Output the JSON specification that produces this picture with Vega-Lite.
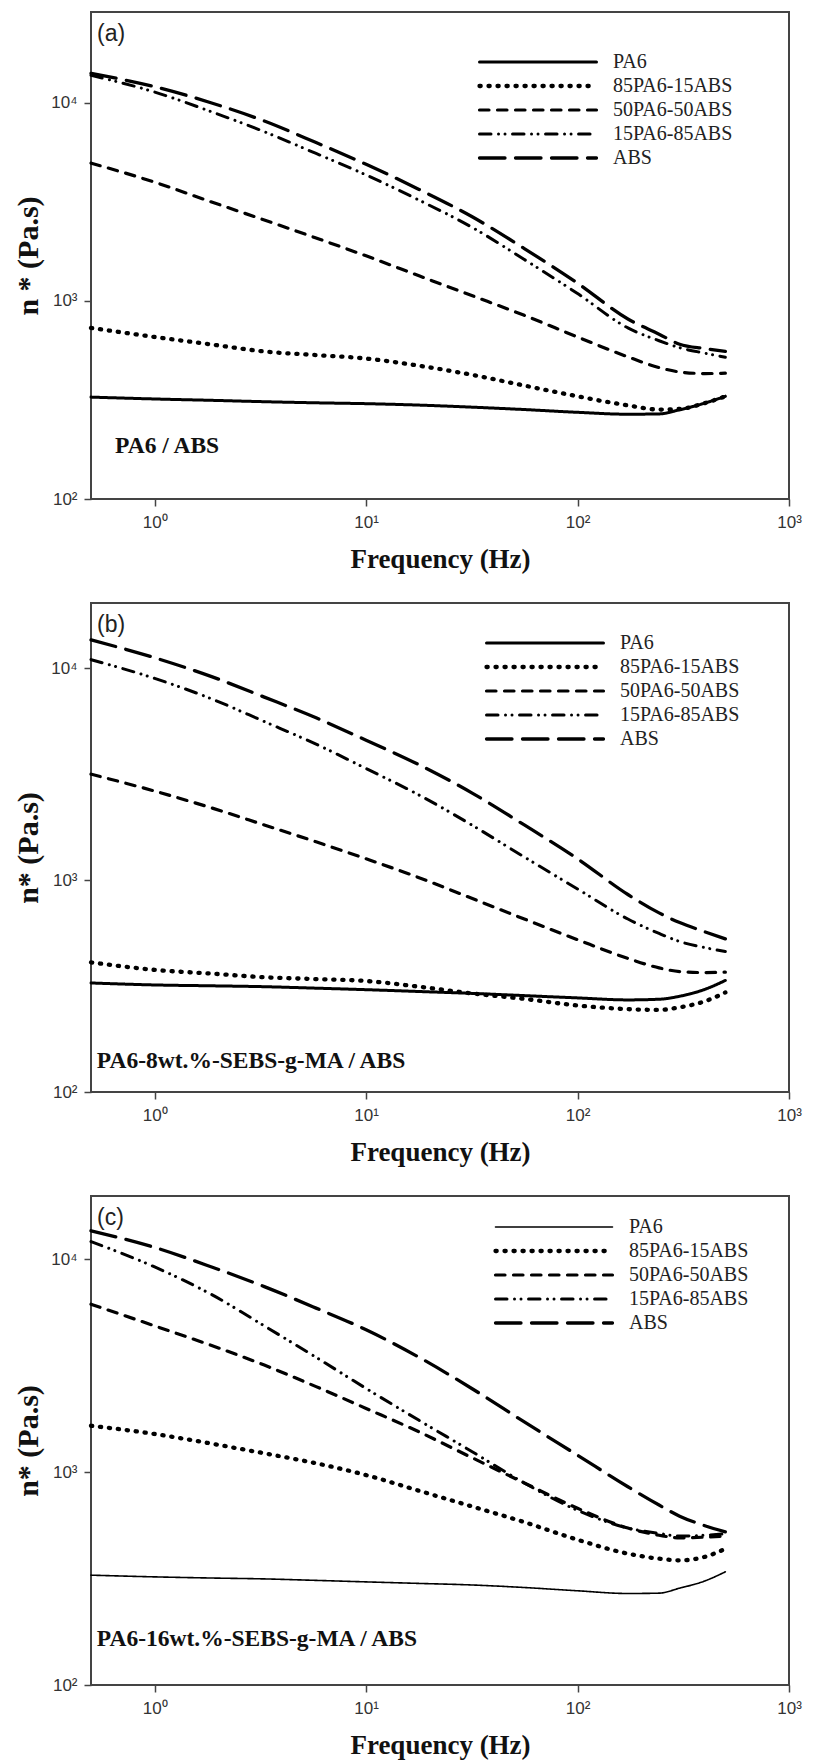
{
  "$schema": "https://vega.github.io/schema/vega-lite/v6.json",
  "background": "white",
  "padding": {"left": 12, "top": 11, "right": 10, "bottom": 4},
  "spacing": 104,
  "bounds": "flush",
  "config": {
    "view": {"stroke": "#444", "strokeWidth": 2},
    "axis": {
      "grid": false, "domain": false, "ticks": true,
      "tickColor": "#444", "tickWidth": 1.5, "tickSize": 7,
      "labelFont": "Liberation Sans", "labelFontSize": 17, "labelColor": "#333",
      "labelOverlap": false, "labelBound": false, "labelFlush": false,
      "titleFont": "Liberation Serif", "titleFontWeight": "bold", "titleColor": "#111"
    },
    "axisX": {"labelPadding": 8, "titlePadding": 16, "titleFontSize": 27},
    "axisY": {"labelPadding": 7, "titlePadding": 7, "titleFontSize": 30},
    "legend": {
      "orient": "none", "title": null, "padding": 0,
      "symbolType": "stroke", "symbolSize": 13689, "symbolStrokeColor": "#000", "symbolOffset": 0,
      "labelFont": "Liberation Serif", "labelFontSize": 20, "labelColor": "#222",
      "labelOffset": 14, "rowPadding": 4, "labelLimit": 300, "clipHeight": 18
    },
    "title": {
      "orient": "top", "anchor": "start", "frame": "group", "offset": -34, "dx": 6,
      "font": "Liberation Sans", "fontSize": 23, "fontWeight": "normal", "color": "#222", "baseline": "alphabetic"
    },
    "line": {"strokeCap": "round", "interpolate": "monotone", "color": "#000"},
    "text": {"font": "Liberation Serif", "fontWeight": "bold", "fontSize": 23.5, "align": "left", "baseline": "alphabetic", "color": "#111"}
  },
  "datasets": {
    "curves": [
      {"panel":"a","series":"PA6","freq":0.5,"eta":327},{"panel":"a","series":"PA6","freq":1,"eta":320},{"panel":"a","series":"PA6","freq":1.86,"eta":315},{"panel":"a","series":"PA6","freq":3.3,"eta":310},{"panel":"a","series":"PA6","freq":5.8,"eta":306},{"panel":"a","series":"PA6","freq":10,"eta":303},{"panel":"a","series":"PA6","freq":17.8,"eta":298},{"panel":"a","series":"PA6","freq":31.6,"eta":291},{"panel":"a","series":"PA6","freq":56,"eta":283},{"panel":"a","series":"PA6","freq":100,"eta":274},{"panel":"a","series":"PA6","freq":173,"eta":268},{"panel":"a","series":"PA6","freq":243,"eta":269},{"panel":"a","series":"PA6","freq":304,"eta":282},{"panel":"a","series":"PA6","freq":400,"eta":305},{"panel":"a","series":"PA6","freq":500,"eta":330},
      {"panel":"a","series":"85PA6-15ABS","freq":0.5,"eta":731},{"panel":"a","series":"85PA6-15ABS","freq":1,"eta":658},{"panel":"a","series":"85PA6-15ABS","freq":1.86,"eta":603},{"panel":"a","series":"85PA6-15ABS","freq":3.3,"eta":556},{"panel":"a","series":"85PA6-15ABS","freq":5.8,"eta":533},{"panel":"a","series":"85PA6-15ABS","freq":10,"eta":512},{"panel":"a","series":"85PA6-15ABS","freq":17.8,"eta":471},{"panel":"a","series":"85PA6-15ABS","freq":31.6,"eta":424},{"panel":"a","series":"85PA6-15ABS","freq":56,"eta":374},{"panel":"a","series":"85PA6-15ABS","freq":100,"eta":330},{"panel":"a","series":"85PA6-15ABS","freq":173,"eta":297},{"panel":"a","series":"85PA6-15ABS","freq":243,"eta":283},{"panel":"a","series":"85PA6-15ABS","freq":304,"eta":285},{"panel":"a","series":"85PA6-15ABS","freq":400,"eta":305},{"panel":"a","series":"85PA6-15ABS","freq":500,"eta":330},
      {"panel":"a","series":"50PA6-50ABS","freq":0.5,"eta":4970},{"panel":"a","series":"50PA6-50ABS","freq":1,"eta":3980},{"panel":"a","series":"50PA6-50ABS","freq":1.86,"eta":3160},{"panel":"a","series":"50PA6-50ABS","freq":3.3,"eta":2565},{"panel":"a","series":"50PA6-50ABS","freq":5.8,"eta":2080},{"panel":"a","series":"50PA6-50ABS","freq":10,"eta":1690},{"panel":"a","series":"50PA6-50ABS","freq":17.8,"eta":1340},{"panel":"a","series":"50PA6-50ABS","freq":31.6,"eta":1065},{"panel":"a","series":"50PA6-50ABS","freq":56,"eta":846},{"panel":"a","series":"50PA6-50ABS","freq":100,"eta":658},{"panel":"a","series":"50PA6-50ABS","freq":173,"eta":522},{"panel":"a","series":"50PA6-50ABS","freq":243,"eta":461},{"panel":"a","series":"50PA6-50ABS","freq":304,"eta":438},{"panel":"a","series":"50PA6-50ABS","freq":400,"eta":430},{"panel":"a","series":"50PA6-50ABS","freq":500,"eta":432},
      {"panel":"a","series":"15PA6-85ABS","freq":0.5,"eta":13800},{"panel":"a","series":"15PA6-85ABS","freq":1,"eta":11350},{"panel":"a","series":"15PA6-85ABS","freq":1.86,"eta":9020},{"panel":"a","series":"15PA6-85ABS","freq":3.3,"eta":7160},{"panel":"a","series":"15PA6-85ABS","freq":5.8,"eta":5560},{"panel":"a","series":"15PA6-85ABS","freq":10,"eta":4330},{"panel":"a","series":"15PA6-85ABS","freq":17.8,"eta":3230},{"panel":"a","series":"15PA6-85ABS","freq":31.6,"eta":2360},{"panel":"a","series":"15PA6-85ABS","freq":56,"eta":1620},{"panel":"a","series":"15PA6-85ABS","freq":100,"eta":1090},{"panel":"a","series":"15PA6-85ABS","freq":173,"eta":731},{"panel":"a","series":"15PA6-85ABS","freq":243,"eta":630},{"panel":"a","series":"15PA6-85ABS","freq":304,"eta":581},{"panel":"a","series":"15PA6-85ABS","freq":400,"eta":545},{"panel":"a","series":"15PA6-85ABS","freq":500,"eta":520},
      {"panel":"a","series":"ABS","freq":0.5,"eta":14100},{"panel":"a","series":"ABS","freq":1,"eta":12080},{"panel":"a","series":"ABS","freq":1.86,"eta":10000},{"panel":"a","series":"ABS","freq":3.3,"eta":8110},{"panel":"a","series":"ABS","freq":5.8,"eta":6310},{"panel":"a","series":"ABS","freq":10,"eta":4900},{"panel":"a","series":"ABS","freq":17.8,"eta":3660},{"panel":"a","series":"ABS","freq":31.6,"eta":2670},{"panel":"a","series":"ABS","freq":56,"eta":1840},{"panel":"a","series":"ABS","freq":100,"eta":1230},{"panel":"a","series":"ABS","freq":173,"eta":811},{"panel":"a","series":"ABS","freq":243,"eta":680},{"panel":"a","series":"ABS","freq":304,"eta":605},{"panel":"a","series":"ABS","freq":400,"eta":575},{"panel":"a","series":"ABS","freq":500,"eta":556},

      {"panel":"b","series":"PA6","freq":0.5,"eta":327},{"panel":"b","series":"PA6","freq":1,"eta":320},{"panel":"b","series":"PA6","freq":1.86,"eta":317},{"panel":"b","series":"PA6","freq":3.3,"eta":314},{"panel":"b","series":"PA6","freq":5.8,"eta":309},{"panel":"b","series":"PA6","freq":10,"eta":304},{"panel":"b","series":"PA6","freq":17.8,"eta":298},{"panel":"b","series":"PA6","freq":31.6,"eta":292},{"panel":"b","series":"PA6","freq":56,"eta":285},{"panel":"b","series":"PA6","freq":100,"eta":278},{"panel":"b","series":"PA6","freq":173,"eta":272},{"panel":"b","series":"PA6","freq":243,"eta":274},{"panel":"b","series":"PA6","freq":304,"eta":283},{"panel":"b","series":"PA6","freq":400,"eta":305},{"panel":"b","series":"PA6","freq":500,"eta":336},
      {"panel":"b","series":"85PA6-15ABS","freq":0.5,"eta":409},{"panel":"b","series":"85PA6-15ABS","freq":1,"eta":377},{"panel":"b","series":"85PA6-15ABS","freq":1.86,"eta":362},{"panel":"b","series":"85PA6-15ABS","freq":3.3,"eta":348},{"panel":"b","series":"85PA6-15ABS","freq":5.8,"eta":341},{"panel":"b","series":"85PA6-15ABS","freq":10,"eta":334},{"panel":"b","series":"85PA6-15ABS","freq":17.8,"eta":314},{"panel":"b","series":"85PA6-15ABS","freq":31.6,"eta":292},{"panel":"b","series":"85PA6-15ABS","freq":56,"eta":275},{"panel":"b","series":"85PA6-15ABS","freq":100,"eta":256},{"panel":"b","series":"85PA6-15ABS","freq":173,"eta":246},{"panel":"b","series":"85PA6-15ABS","freq":243,"eta":244},{"panel":"b","series":"85PA6-15ABS","freq":304,"eta":251},{"panel":"b","series":"85PA6-15ABS","freq":400,"eta":268},{"panel":"b","series":"85PA6-15ABS","freq":500,"eta":295},
      {"panel":"b","series":"50PA6-50ABS","freq":0.5,"eta":3160},{"panel":"b","series":"50PA6-50ABS","freq":1,"eta":2630},{"panel":"b","series":"50PA6-50ABS","freq":1.86,"eta":2190},{"panel":"b","series":"50PA6-50ABS","freq":3.3,"eta":1820},{"panel":"b","series":"50PA6-50ABS","freq":5.8,"eta":1515},{"panel":"b","series":"50PA6-50ABS","freq":10,"eta":1260},{"panel":"b","series":"50PA6-50ABS","freq":17.8,"eta":1027},{"panel":"b","series":"50PA6-50ABS","freq":31.6,"eta":820},{"panel":"b","series":"50PA6-50ABS","freq":56,"eta":655},{"panel":"b","series":"50PA6-50ABS","freq":100,"eta":523},{"panel":"b","series":"50PA6-50ABS","freq":173,"eta":427},{"panel":"b","series":"50PA6-50ABS","freq":243,"eta":385},{"panel":"b","series":"50PA6-50ABS","freq":304,"eta":370},{"panel":"b","series":"50PA6-50ABS","freq":400,"eta":366},{"panel":"b","series":"50PA6-50ABS","freq":500,"eta":368},
      {"panel":"b","series":"15PA6-85ABS","freq":0.5,"eta":10970},{"panel":"b","series":"15PA6-85ABS","freq":1,"eta":8950},{"panel":"b","series":"15PA6-85ABS","freq":1.86,"eta":7160},{"panel":"b","series":"15PA6-85ABS","freq":3.3,"eta":5600},{"panel":"b","series":"15PA6-85ABS","freq":5.8,"eta":4380},{"panel":"b","series":"15PA6-85ABS","freq":10,"eta":3360},{"panel":"b","series":"15PA6-85ABS","freq":17.8,"eta":2520},{"panel":"b","series":"15PA6-85ABS","freq":31.6,"eta":1820},{"panel":"b","series":"15PA6-85ABS","freq":56,"eta":1285},{"panel":"b","series":"15PA6-85ABS","freq":100,"eta":908},{"panel":"b","series":"15PA6-85ABS","freq":173,"eta":655},{"panel":"b","series":"15PA6-85ABS","freq":243,"eta":560},{"panel":"b","series":"15PA6-85ABS","freq":304,"eta":513},{"panel":"b","series":"15PA6-85ABS","freq":400,"eta":480},{"panel":"b","series":"15PA6-85ABS","freq":500,"eta":460},
      {"panel":"b","series":"ABS","freq":0.5,"eta":13600},{"panel":"b","series":"ABS","freq":1,"eta":11200},{"panel":"b","series":"ABS","freq":1.86,"eta":9120},{"panel":"b","series":"ABS","freq":3.3,"eta":7300},{"panel":"b","series":"ABS","freq":5.8,"eta":5830},{"panel":"b","series":"ABS","freq":10,"eta":4570},{"panel":"b","series":"ABS","freq":17.8,"eta":3500},{"panel":"b","series":"ABS","freq":31.6,"eta":2580},{"panel":"b","series":"ABS","freq":56,"eta":1820},{"panel":"b","series":"ABS","freq":100,"eta":1260},{"panel":"b","series":"ABS","freq":173,"eta":855},{"panel":"b","series":"ABS","freq":243,"eta":700},{"panel":"b","series":"ABS","freq":304,"eta":630},{"panel":"b","series":"ABS","freq":400,"eta":570},{"panel":"b","series":"ABS","freq":500,"eta":528},

      {"panel":"c","series":"PA6","freq":0.5,"eta":328},{"panel":"c","series":"PA6","freq":1,"eta":322},{"panel":"c","series":"PA6","freq":1.86,"eta":318},{"panel":"c","series":"PA6","freq":3.3,"eta":315},{"panel":"c","series":"PA6","freq":5.8,"eta":310},{"panel":"c","series":"PA6","freq":10,"eta":305},{"panel":"c","series":"PA6","freq":17.8,"eta":300},{"panel":"c","series":"PA6","freq":31.6,"eta":295},{"panel":"c","series":"PA6","freq":56,"eta":287},{"panel":"c","series":"PA6","freq":100,"eta":277},{"panel":"c","series":"PA6","freq":173,"eta":269},{"panel":"c","series":"PA6","freq":243,"eta":270},{"panel":"c","series":"PA6","freq":304,"eta":285},{"panel":"c","series":"PA6","freq":400,"eta":308},{"panel":"c","series":"PA6","freq":500,"eta":340},
      {"panel":"c","series":"85PA6-15ABS","freq":0.5,"eta":1650},{"panel":"c","series":"85PA6-15ABS","freq":1,"eta":1510},{"panel":"c","series":"85PA6-15ABS","freq":1.86,"eta":1360},{"panel":"c","series":"85PA6-15ABS","freq":3.3,"eta":1225},{"panel":"c","series":"85PA6-15ABS","freq":5.8,"eta":1100},{"panel":"c","series":"85PA6-15ABS","freq":10,"eta":968},{"panel":"c","series":"85PA6-15ABS","freq":17.8,"eta":817},{"panel":"c","series":"85PA6-15ABS","freq":31.6,"eta":690},{"panel":"c","series":"85PA6-15ABS","freq":56,"eta":582},{"panel":"c","series":"85PA6-15ABS","freq":100,"eta":481},{"panel":"c","series":"85PA6-15ABS","freq":173,"eta":414},{"panel":"c","series":"85PA6-15ABS","freq":243,"eta":392},{"panel":"c","series":"85PA6-15ABS","freq":304,"eta":385},{"panel":"c","series":"85PA6-15ABS","freq":400,"eta":400},{"panel":"c","series":"85PA6-15ABS","freq":500,"eta":436},
      {"panel":"c","series":"50PA6-50ABS","freq":0.5,"eta":6140},{"panel":"c","series":"50PA6-50ABS","freq":1,"eta":4860},{"panel":"c","series":"50PA6-50ABS","freq":1.86,"eta":3930},{"panel":"c","series":"50PA6-50ABS","freq":3.3,"eta":3180},{"panel":"c","series":"50PA6-50ABS","freq":5.8,"eta":2520},{"panel":"c","series":"50PA6-50ABS","freq":10,"eta":1990},{"panel":"c","series":"50PA6-50ABS","freq":17.8,"eta":1545},{"panel":"c","series":"50PA6-50ABS","freq":31.6,"eta":1170},{"panel":"c","series":"50PA6-50ABS","freq":56,"eta":889},{"panel":"c","series":"50PA6-50ABS","freq":100,"eta":676},{"panel":"c","series":"50PA6-50ABS","freq":173,"eta":546},{"panel":"c","series":"50PA6-50ABS","freq":243,"eta":505},{"panel":"c","series":"50PA6-50ABS","freq":304,"eta":491},{"panel":"c","series":"50PA6-50ABS","freq":400,"eta":495},{"panel":"c","series":"50PA6-50ABS","freq":500,"eta":501},
      {"panel":"c","series":"15PA6-85ABS","freq":0.5,"eta":12100},{"panel":"c","series":"15PA6-85ABS","freq":1,"eta":9190},{"panel":"c","series":"15PA6-85ABS","freq":1.86,"eta":6820},{"panel":"c","series":"15PA6-85ABS","freq":3.3,"eta":4860},{"panel":"c","series":"15PA6-85ABS","freq":5.8,"eta":3460},{"panel":"c","series":"15PA6-85ABS","freq":10,"eta":2470},{"panel":"c","series":"15PA6-85ABS","freq":17.8,"eta":1750},{"panel":"c","series":"15PA6-85ABS","freq":31.6,"eta":1250},{"panel":"c","series":"15PA6-85ABS","freq":56,"eta":889},{"panel":"c","series":"15PA6-85ABS","freq":100,"eta":661},{"panel":"c","series":"15PA6-85ABS","freq":173,"eta":546},{"panel":"c","series":"15PA6-85ABS","freq":243,"eta":515},{"panel":"c","series":"15PA6-85ABS","freq":304,"eta":501},{"panel":"c","series":"15PA6-85ABS","freq":400,"eta":505},{"panel":"c","series":"15PA6-85ABS","freq":500,"eta":513},
      {"panel":"c","series":"ABS","freq":0.5,"eta":13600},{"panel":"c","series":"ABS","freq":1,"eta":11350},{"panel":"c","series":"ABS","freq":1.86,"eta":9190},{"panel":"c","series":"ABS","freq":3.3,"eta":7430},{"panel":"c","series":"ABS","freq":5.8,"eta":5890},{"panel":"c","series":"ABS","freq":10,"eta":4660},{"panel":"c","series":"ABS","freq":17.8,"eta":3460},{"panel":"c","series":"ABS","freq":31.6,"eta":2470},{"panel":"c","series":"ABS","freq":56,"eta":1720},{"panel":"c","series":"ABS","freq":100,"eta":1200},{"panel":"c","series":"ABS","freq":173,"eta":853},{"panel":"c","series":"ABS","freq":243,"eta":700},{"panel":"c","series":"ABS","freq":304,"eta":621},{"panel":"c","series":"ABS","freq":400,"eta":560},{"panel":"c","series":"ABS","freq":500,"eta":524}
    ],
    "notes": [
      {"panel":"a","text":"PA6 / ABS","freq":0.65,"eta":171},
      {"panel":"b","text":"PA6-8wt.%-SEBS-g-MA / ABS","freq":0.533,"eta":130},
      {"panel":"c","text":"PA6-16wt.%-SEBS-g-MA / ABS","freq":0.533,"eta":152}
    ]
  },
  "vconcat": [
    {
      "width": 698, "height": 487,
      "title": "(a)",
      "layer": [
        {
          "data": {"name": "curves"},
          "transform": [{"filter": "datum.panel === 'a'"}],
          "mark": {"type": "line", "strokeCap": "round"},
          "encoding": {
            "x": {"field": "freq", "type": "quantitative", "scale": {"type": "log", "domain": [0.5, 1000], "nice": false},
                  "axis": {"title": "Frequency (Hz)", "values": [1, 10, 100, 1000], "labelExpr": "'10' + ['⁰','¹','²','³','⁴'][round(log(datum.value)/LN10)]"}},
            "y": {"field": "eta", "type": "quantitative", "scale": {"type": "log", "domain": [100, 28800], "nice": false},
                  "axis": {"title": "n * (Pa.s)", "values": [100, 1000, 10000], "labelExpr": "'10' + ['⁰','¹','²','³','⁴'][round(log(datum.value)/LN10)]"}},
            "strokeDash": {"field": "series", "type": "nominal",
              "scale": {"domain": ["PA6", "85PA6-15ABS", "50PA6-50ABS", "15PA6-85ABS", "ABS"], "range": [[1, 0], [1.2, 7.8], [9.5, 8.5], [11.5, 7.5, 0.01, 6.5, 0.01, 7.5], [25.5, 10.5]]},
              "legend": {"legendX": 386, "legendY": 41, "encode": {"symbols": {"update": {"strokeCap": {"value": "round"}}}}}},
            "strokeWidth": {"field": "series", "type": "nominal",
              "scale": {"type": "ordinal", "domain": ["PA6", "85PA6-15ABS", "50PA6-50ABS", "15PA6-85ABS", "ABS"], "range": [3, 4.3, 3.2, 3, 3.3]}}
          }
        },
        {
          "data": {"name": "notes"},
          "transform": [{"filter": "datum.panel === 'a'"}],
          "mark": {"type": "text"},
          "encoding": {
            "x": {"field": "freq", "type": "quantitative"},
            "y": {"field": "eta", "type": "quantitative"},
            "text": {"field": "text"}
          }
        }
      ]
    },
    {
      "width": 698, "height": 489,
      "title": "(b)",
      "layer": [
        {
          "data": {"name": "curves"},
          "transform": [{"filter": "datum.panel === 'b'"}],
          "mark": {"type": "line", "strokeCap": "round"},
          "encoding": {
            "x": {"field": "freq", "type": "quantitative", "scale": {"type": "log", "domain": [0.5, 1000], "nice": false},
                  "axis": {"title": "Frequency (Hz)", "values": [1, 10, 100, 1000], "labelExpr": "'10' + ['⁰','¹','²','³','⁴'][round(log(datum.value)/LN10)]"}},
            "y": {"field": "eta", "type": "quantitative", "scale": {"type": "log", "domain": [100, 20300], "nice": false},
                  "axis": {"title": "n* (Pa.s)", "values": [100, 1000, 10000], "labelExpr": "'10' + ['⁰','¹','²','³','⁴'][round(log(datum.value)/LN10)]"}},
            "strokeDash": {"field": "series", "type": "nominal",
              "scale": {"domain": ["PA6", "85PA6-15ABS", "50PA6-50ABS", "15PA6-85ABS", "ABS"], "range": [[1, 0], [1.2, 7.8], [9.5, 8.5], [11.5, 7.5, 0.01, 6.5, 0.01, 7.5], [25.5, 10.5]]},
              "legend": {"legendX": 393, "legendY": 31, "encode": {"symbols": {"update": {"strokeCap": {"value": "round"}}}}}},
            "strokeWidth": {"field": "series", "type": "nominal",
              "scale": {"type": "ordinal", "domain": ["PA6", "85PA6-15ABS", "50PA6-50ABS", "15PA6-85ABS", "ABS"], "range": [3, 4.3, 3.2, 3, 3.3]}}
          }
        },
        {
          "data": {"name": "notes"},
          "transform": [{"filter": "datum.panel === 'b'"}],
          "mark": {"type": "text"},
          "encoding": {
            "x": {"field": "freq", "type": "quantitative"},
            "y": {"field": "eta", "type": "quantitative"},
            "text": {"field": "text"}
          }
        }
      ]
    },
    {
      "width": 698, "height": 489,
      "title": "(c)",
      "layer": [
        {
          "data": {"name": "curves"},
          "transform": [{"filter": "datum.panel === 'c'"}],
          "mark": {"type": "line", "strokeCap": "round"},
          "encoding": {
            "x": {"field": "freq", "type": "quantitative", "scale": {"type": "log", "domain": [0.5, 1000], "nice": false},
                  "axis": {"title": "Frequency (Hz)", "values": [1, 10, 100, 1000], "labelExpr": "'10' + ['⁰','¹','²','³','⁴'][round(log(datum.value)/LN10)]"}},
            "y": {"field": "eta", "type": "quantitative", "scale": {"type": "log", "domain": [100, 19800], "nice": false},
                  "axis": {"title": "n* (Pa.s)", "values": [100, 1000, 10000], "labelExpr": "'10' + ['⁰','¹','²','³','⁴'][round(log(datum.value)/LN10)]"}},
            "strokeDash": {"field": "series", "type": "nominal",
              "scale": {"domain": ["PA6", "85PA6-15ABS", "50PA6-50ABS", "15PA6-85ABS", "ABS"], "range": [[1, 0], [1.2, 7.8], [9.5, 8.5], [11.5, 7.5, 0.01, 6.5, 0.01, 7.5], [25.5, 10.5]]},
              "legend": {"legendX": 402, "legendY": 22, "encode": {"symbols": {"update": {"strokeCap": {"value": "round"}}}}}},
            "strokeWidth": {"field": "series", "type": "nominal",
              "scale": {"type": "ordinal", "domain": ["PA6", "85PA6-15ABS", "50PA6-50ABS", "15PA6-85ABS", "ABS"], "range": [1.6, 4.3, 3.2, 3, 3.3]}}
          }
        },
        {
          "data": {"name": "notes"},
          "transform": [{"filter": "datum.panel === 'c'"}],
          "mark": {"type": "text"},
          "encoding": {
            "x": {"field": "freq", "type": "quantitative"},
            "y": {"field": "eta", "type": "quantitative"},
            "text": {"field": "text"}
          }
        }
      ]
    }
  ],
  "resolve": {"scale": {"strokeDash": "independent", "strokeWidth": "independent"}}
}
